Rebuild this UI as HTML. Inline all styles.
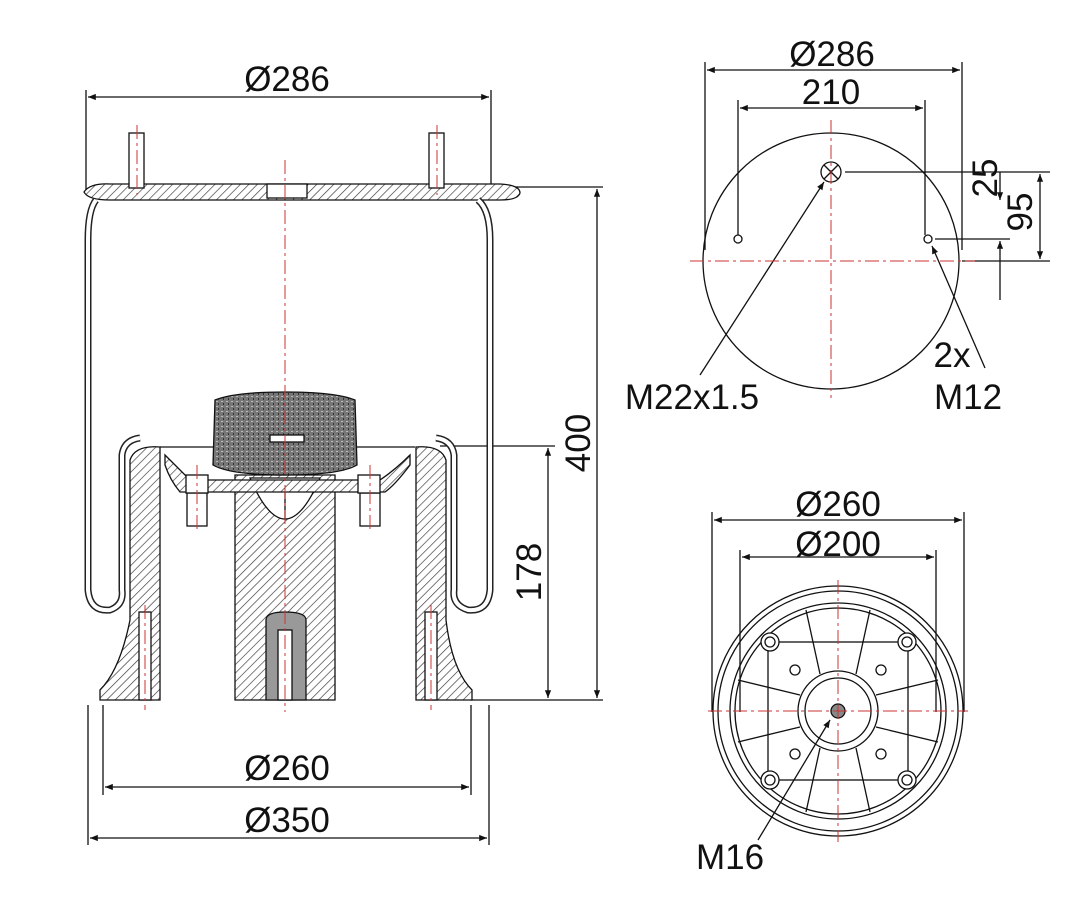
<!DOCTYPE html>
<html><head><meta charset="utf-8"><style>
body{margin:0;background:#fff}
svg{display:block}
text{font-family:"Liberation Sans",sans-serif;font-size:35px;fill:#111}
</style></head><body>
<svg width="1072" height="920" viewBox="0 0 1072 920" xmlns="http://www.w3.org/2000/svg">
<defs>
<pattern id="h" width="6" height="6" patternUnits="userSpaceOnUse" patternTransform="rotate(45)">
<rect width="6" height="6" fill="#fff"/><line x1="0" y1="0" x2="0" y2="6" stroke="#333" stroke-width="1.3"/></pattern>
<pattern id="g" width="5" height="5" patternUnits="userSpaceOnUse">
<rect width="5" height="5" fill="#777"/><rect x="1" y="1" width="2" height="1" fill="#bbb"/><rect x="3" y="3" width="1" height="2" fill="#333"/></pattern>
<marker id="a" viewBox="0 0 10 10" refX="10" refY="5" markerWidth="10" markerHeight="6" orient="auto-start-reverse"><path d="M0,1 L10,5 L0,9z" fill="#111"/></marker>
</defs>
<g stroke="#111" stroke-width="1.3" fill="none">
<line x1="86" y1="90" x2="86" y2="190"/><line x1="491" y1="90" x2="491" y2="190"/>
<line x1="88" y1="97" x2="489" y2="97" marker-start="url(#a)" marker-end="url(#a)"/>
<line x1="500" y1="187" x2="603" y2="187"/><line x1="470" y1="700" x2="603" y2="700"/>
<line x1="597" y1="189" x2="597" y2="698" marker-start="url(#a)" marker-end="url(#a)"/>
<line x1="440" y1="446" x2="555" y2="446"/>
<line x1="548" y1="448" x2="548" y2="698" marker-start="url(#a)" marker-end="url(#a)"/>
<line x1="103" y1="705" x2="103" y2="795"/><line x1="471" y1="705" x2="471" y2="795"/>
<line x1="105" y1="787" x2="469" y2="787" marker-start="url(#a)" marker-end="url(#a)"/>
<line x1="88" y1="705" x2="88" y2="845"/><line x1="489" y1="705" x2="489" y2="845"/>
<line x1="90" y1="838" x2="487" y2="838" marker-start="url(#a)" marker-end="url(#a)"/>
<path d="M84,192 Q90,183 110,184 L500,184 Q520,185 520,193 Q518,200 500,200 L110,200 Q88,200 84,192z" fill="url(#h)"/>
<rect x="267" y="184" width="40" height="14" fill="#fff"/>
<rect x="129" y="133" width="15" height="55" fill="#fff"/><rect x="429" y="133" width="15" height="55" fill="#fff"/>
<path d="M96,200 Q88,210 88,240 L88,590 Q90,612 110,610 Q124,605 122,590 L122,455 Q124,440 140,438" stroke-width="7" stroke="#222"/>
<path d="M96,200 Q88,210 88,240 L88,590 Q90,612 110,610 Q124,605 122,590 L122,455 Q124,440 140,438" stroke-width="4" stroke="#fff"/>
<path d="M478,200 Q490,210 490,240 L490,590 Q488,612 468,610 Q452,605 454,590 L454,455 Q452,440 436,438" stroke-width="7" stroke="#222"/>
<path d="M478,200 Q490,210 490,240 L490,590 Q488,612 468,610 Q452,605 454,590 L454,455 Q452,440 436,438" stroke-width="4" stroke="#fff"/>
<path d="M130,460 Q135,445 160,447 L160,700 L100,700 L100,690 Q120,670 130,620z" fill="url(#h)"/>
<path d="M446,460 Q441,445 416,447 L416,700 L472,700 L472,690 Q452,670 446,620z" fill="url(#h)"/>
<path d="M235,475 L335,475 L335,700 L235,700z" fill="url(#h)"/>
<path d="M250,478 Q285,560 320,478z" fill="#fff"/>
<path d="M266,620 Q266,612 285,612 Q306,612 306,620 L306,700 L266,700z" fill="#999"/>
<rect x="278" y="630" width="14" height="70" fill="#fff"/>
<rect x="139" y="612" width="12" height="88" fill="#fff"/><rect x="425" y="612" width="12" height="88" fill="#fff"/>
<line x1="160" y1="447" x2="415" y2="447"/>
<path d="M165,455 Q185,475 190,480 L380,480 Q395,470 410,455 L410,465 Q395,485 385,492 L180,492 Q170,480 165,465z" fill="url(#h)"/>
<rect x="187" y="493" width="20" height="33" fill="#fff"/><rect x="360" y="493" width="20" height="33" fill="#fff"/>
<rect x="186" y="475" width="22" height="18" fill="#fff"/><rect x="358" y="475" width="22" height="18" fill="#fff"/>
<path d="M215,400 Q235,392 285,392 Q335,392 355,400 L357,465 Q340,475 285,475 Q230,475 213,465z" fill="url(#g)"/>
<rect x="270" y="435" width="34" height="7" fill="#fff"/>
<line x1="285" y1="492" x2="285" y2="520"/>
</g>
<g stroke="#c33" stroke-width="1" stroke-dasharray="14,4,3,4" fill="none">
<line x1="285" y1="160" x2="285" y2="712"/>
<line x1="137" y1="125" x2="137" y2="195"/><line x1="437" y1="125" x2="437" y2="195"/>
<line x1="197" y1="465" x2="197" y2="532"/><line x1="370" y1="465" x2="370" y2="532"/>
<line x1="145" y1="605" x2="145" y2="710"/><line x1="431" y1="605" x2="431" y2="710"/>
</g>
<text x="287" y="91" text-anchor="middle">Ø286</text>
<text x="287" y="780" text-anchor="middle">Ø260</text>
<text x="287" y="832" text-anchor="middle">Ø350</text>
<text transform="translate(590,443) rotate(-90)" text-anchor="middle">400</text>
<text transform="translate(541,572) rotate(-90)" text-anchor="middle">178</text>

<g stroke="#111" stroke-width="1.3" fill="none">
<circle cx="831" cy="261" r="128"/>
<line x1="705" y1="62" x2="705" y2="250"/><line x1="962" y1="62" x2="962" y2="250"/>
<line x1="707" y1="70" x2="960" y2="70" marker-start="url(#a)" marker-end="url(#a)"/>
<line x1="738" y1="100" x2="738" y2="235"/><line x1="925" y1="100" x2="925" y2="235"/>
<line x1="740" y1="108" x2="923" y2="108" marker-start="url(#a)" marker-end="url(#a)"/>
<circle cx="831" cy="172" r="10"/><line x1="824" y1="165" x2="838" y2="179"/><line x1="838" y1="165" x2="824" y2="179"/>
<circle cx="738" cy="239" r="4"/><circle cx="928" cy="239" r="4"/>
<line x1="845" y1="172" x2="1050" y2="172"/><line x1="935" y1="239" x2="1010" y2="239"/><line x1="962" y1="261" x2="1050" y2="261"/>
<line x1="1000" y1="172" x2="1000" y2="200" marker-end="url(#a)"/>
<line x1="1000" y1="300" x2="1000" y2="241" marker-end="url(#a)"/>
<line x1="1040" y1="174" x2="1040" y2="259" marker-start="url(#a)" marker-end="url(#a)"/>
<line x1="700" y1="375" x2="824" y2="182" marker-end="url(#a)"/>
<line x1="985" y1="368" x2="932" y2="246" marker-end="url(#a)"/>
</g>
<g stroke="#c33" stroke-width="1" stroke-dasharray="14,4,3,4">
<line x1="831" y1="120" x2="831" y2="398"/><line x1="690" y1="261" x2="975" y2="261"/>
</g>
<text x="832" y="66" text-anchor="middle">Ø286</text>
<text x="831" y="104" text-anchor="middle">210</text>
<text transform="translate(997,178) rotate(-90)" text-anchor="middle">25</text>
<text transform="translate(1032,212) rotate(-90)" text-anchor="middle">95</text>
<text x="692" y="409" text-anchor="middle">M22x1.5</text>
<text x="952" y="367" text-anchor="middle">2x</text>
<text x="968" y="409" text-anchor="middle">M12</text>

<g stroke="#111" stroke-width="1.3" fill="none">
<line x1="712" y1="512" x2="712" y2="712"/><line x1="964" y1="512" x2="964" y2="712"/>
<line x1="714" y1="520" x2="962" y2="520" marker-start="url(#a)" marker-end="url(#a)"/>
<line x1="740" y1="550" x2="740" y2="712"/><line x1="936" y1="550" x2="936" y2="712"/>
<line x1="742" y1="557" x2="934" y2="557" marker-start="url(#a)" marker-end="url(#a)"/>
<circle cx="838" cy="711" r="125"/><circle cx="838" cy="711" r="120"/><circle cx="838" cy="711" r="108"/><circle cx="838" cy="711" r="103"/>
<circle cx="838" cy="711" r="40"/><circle cx="838" cy="711" r="33"/>
<rect x="768" y="642" width="140" height="138"/>
<line x1="820" y1="674" x2="806" y2="610"/><line x1="856" y1="674" x2="870" y2="610"/>
<line x1="820" y1="748" x2="806" y2="812"/><line x1="856" y1="748" x2="870" y2="812"/>
<line x1="800" y1="695" x2="738" y2="680"/><line x1="800" y1="727" x2="738" y2="742"/>
<line x1="876" y1="695" x2="938" y2="680"/><line x1="876" y1="727" x2="938" y2="742"/>
<circle cx="770" cy="642" r="9" fill="#fff"/><circle cx="770" cy="642" r="5"/>
<circle cx="907" cy="642" r="9" fill="#fff"/><circle cx="907" cy="642" r="5"/>
<circle cx="770" cy="780" r="9" fill="#fff"/><circle cx="770" cy="780" r="5"/>
<circle cx="907" cy="780" r="9" fill="#fff"/><circle cx="907" cy="780" r="5"/>
<circle cx="795" cy="670" r="5"/><circle cx="881" cy="670" r="5"/><circle cx="795" cy="754" r="5"/><circle cx="881" cy="754" r="5"/>
<circle cx="838" cy="711" r="7" fill="#888"/>
<line x1="758" y1="840" x2="830" y2="720" marker-end="url(#a)"/>
</g>
<g stroke="#c33" stroke-width="1" stroke-dasharray="14,4,3,4">
<line x1="838" y1="580" x2="838" y2="842"/><line x1="708" y1="711" x2="968" y2="711"/>
</g>
<text x="838" y="516" text-anchor="middle">Ø260</text>
<text x="838" y="556" text-anchor="middle">Ø200</text>
<text x="730" y="869" text-anchor="middle">M16</text>
</svg>
</body></html>
